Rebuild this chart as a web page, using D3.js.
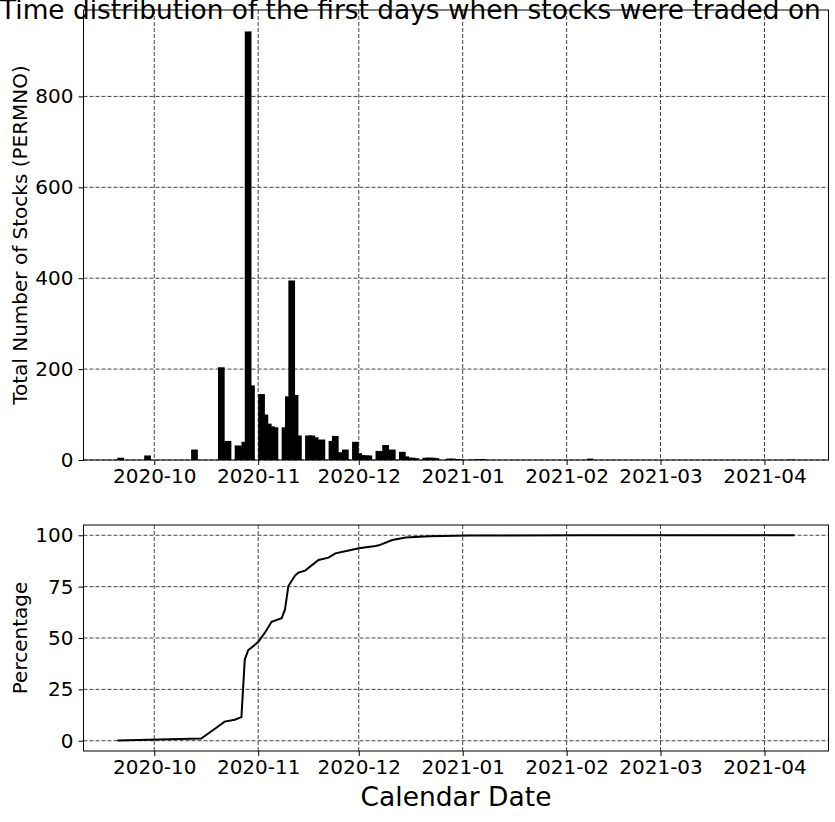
<!DOCTYPE html>
<html>
<head>
<meta charset="utf-8">
<script src="https://cdn.jsdelivr.net/npm/d3@7"></script>
<style>
  body { margin: 0; background: #fff; }
  svg { display: block; font-family: "DejaVu Sans", sans-serif; }
</style>
</head>
<body>
<div id="chart"></div>
<script>
// first-trading-day counts (date of the bar's left edge, number of PERMNOs)
const barDates = [
  "2020-09-20", "2020-09-28", "2020-10-12", "2020-10-20", "2020-10-21", "2020-10-22",
  "2020-10-25", "2020-10-26", "2020-10-27", "2020-10-28", "2020-10-29",
  "2020-11-01", "2020-11-02", "2020-11-03", "2020-11-04", "2020-11-05",
  "2020-11-08", "2020-11-09", "2020-11-10", "2020-11-11", "2020-11-12",
  "2020-11-15", "2020-11-16", "2020-11-17", "2020-11-18", "2020-11-19",
  "2020-11-22", "2020-11-23", "2020-11-24", "2020-11-26",
  "2020-11-29", "2020-11-30", "2020-12-01", "2020-12-02", "2020-12-03",
  "2020-12-06", "2020-12-07", "2020-12-08", "2020-12-09", "2020-12-10",
  "2020-12-13", "2020-12-14", "2020-12-15", "2020-12-16", "2020-12-17",
  "2020-12-20", "2020-12-21", "2020-12-22", "2020-12-23",
  "2020-12-27", "2020-12-28", "2020-12-29", "2020-12-30",
  "2021-01-03", "2021-01-05", "2021-01-06", "2021-02-07", "2021-04-08"
];
const barCounts = [
  5, 10, 23, 204, 38, 42,
  32, 28, 40, 943, 164,
  145, 100, 80, 74, 72,
  72, 140, 395, 143, 54,
  54, 54, 50, 44, 45,
  42, 53, 17, 23,
  40, 15, 11, 10, 10,
  20, 18, 33, 20, 23,
  18, 8, 5, 5, 4,
  5, 5, 5, 4,
  3, 3, 2, 2,
  1, 2, 2, 3, 1
];

// cumulative share of stocks
const lineDates = [
  "2020-09-20", "2020-10-15", "2020-10-19", "2020-10-22", "2020-10-25", "2020-10-27",
  "2020-10-28", "2020-10-29", "2020-11-01", "2020-11-03", "2020-11-05", "2020-11-08",
  "2020-11-09", "2020-11-10", "2020-11-12", "2020-11-13", "2020-11-15", "2020-11-19",
  "2020-11-22", "2020-11-24", "2020-11-28", "2020-12-01", "2020-12-06", "2020-12-07",
  "2020-12-11", "2020-12-15", "2020-12-22", "2021-01-03", "2021-02-07", "2021-04-10"
];
const linePct = [
  0.15, 1.1, 5.7, 9.3, 10.2, 11.5,
  39.5, 44.0, 48.0, 52.6, 57.9, 59.6,
  63.9, 75.3, 80.4, 81.8, 82.8, 88.0,
  89.1, 91.2, 92.6, 93.7, 94.8, 95.1,
  97.7, 98.9, 99.5, 99.85, 99.97, 100
];

const yTicksTop = [0, 200, 400, 600, 800];
const yTicksBottom = [0, 25, 50, 75, 100];
const xTickDates = ["2020-10-01", "2020-11-01", "2020-12-01", "2021-01-01", "2021-02-01", "2021-03-01", "2021-04-01"];

const parse = d3.utcParse("%Y-%m-%d");
const DAY = 24 * 3600 * 1000;

const W = 835, H = 822;
const left = 83.5, right = 828.5;
const top1 = 10, bottom1 = 460;
const top2 = 525, bottom2 = 751;

const svg = d3.select("#chart").append("svg")
    .attr("width", W)
    .attr("height", H);

// x domain: bar extents padded by 5% on each side (shared by both panels)
const bars = barDates.map((d, i) => ({ start: parse(d), count: barCounts[i] }));
const xMin = d3.min(bars, d => d.start);
const xMax = new Date(d3.max(bars, d => d.start).getTime() + 2 * DAY);
const pad = (xMax - xMin) * 0.05;

const x = d3.scaleUtc()
    .domain([new Date(+xMin - pad), new Date(+xMax + pad)])
    .range([left, right]);

const y1 = d3.scaleLinear()
    .domain([0, d3.max(barCounts) * 1.05])
    .range([bottom1, top1]);

const y2 = d3.scaleLinear()
    .domain([-5, 105])
    .range([bottom2, top2]);

const tickVals = xTickDates.map(parse);
const fmt = d3.utcFormat("%Y-%m");

function drawGrid(g, y, yTicks, yTop, yBot) {
    g.selectAll(".vgrid")
        .data(tickVals)
        .enter().append("line")
        .attr("x1", d => x(d)).attr("x2", d => x(d))
        .attr("y1", yTop).attr("y2", yBot)
        .attr("stroke", "#444").attr("stroke-width", 1)
        .attr("stroke-dasharray", "4,2");
    g.selectAll(".hgrid")
        .data(yTicks)
        .enter().append("line")
        .attr("x1", left).attr("x2", right)
        .attr("y1", d => y(d)).attr("y2", d => y(d))
        .attr("stroke", "#444").attr("stroke-width", 1)
        .attr("stroke-dasharray", "4,2");
}

function drawAxes(y, yTicks, yTop, yBot) {
    const xa = svg.append("g")
        .attr("transform", `translate(0,${yBot})`)
        .call(d3.axisBottom(x).tickValues(tickVals).tickFormat(fmt).tickSize(5).tickPadding(4));
    const ya = svg.append("g")
        .attr("transform", `translate(${left},0)`)
        .call(d3.axisLeft(y).tickValues(yTicks).tickSize(5).tickPadding(5));
    [xa, ya].forEach(a => {
        a.select(".domain").remove();
        a.selectAll("line").attr("stroke", "#000").attr("stroke-width", 1);
        a.selectAll("text")
            .style("font-size", "20px")
            .style("font-family", "DejaVu Sans")
            .attr("fill", "#000");
    });
    // frame
    svg.append("rect")
        .attr("x", left).attr("y", yTop)
        .attr("width", right - left).attr("height", yBot - yTop)
        .attr("fill", "none").attr("stroke", "#000").attr("stroke-width", 1);
}

// ---- top panel: bars
const g1 = svg.append("g");
drawGrid(g1, y1, yTicksTop, top1, bottom1);

g1.selectAll("rect.bar")
    .data(bars)
    .enter().append("rect")
    .attr("class", "bar")
    .attr("x", d => x(d.start))
    .attr("width", d => x(new Date(+d.start + 2 * DAY)) - x(d.start))
    .attr("y", d => y1(d.count))
    .attr("height", d => y1(0) - y1(d.count))
    .attr("fill", "#000");

drawAxes(y1, yTicksTop, top1, bottom1);

// ---- bottom panel: cumulative line
const g2 = svg.append("g");
drawGrid(g2, y2, yTicksBottom, top2, bottom2);

const lineData = lineDates.map((d, i) => ({ date: parse(d), pct: linePct[i] }));
g2.append("path")
    .datum(lineData)
    .attr("fill", "none")
    .attr("stroke", "#000")
    .attr("stroke-width", 2)
    .attr("d", d3.line().x(d => x(d.date)).y(d => y2(d.pct)));

drawAxes(y2, yTicksBottom, top2, bottom2);

// ---- labels (the title spans the whole figure width, as in the original)
svg.append("text")
    .attr("x", 0)
    .attr("y", 19)
    .style("font-size", "26.4px")
    .text("Time distribution of the first days when stocks were traded on");

svg.append("text")
    .attr("transform", `translate(27,${(top1 + bottom1) / 2}) rotate(-90)`)
    .attr("text-anchor", "middle")
    .style("font-size", "20px")
    .text("Total Number of Stocks (PERMNO)");

svg.append("text")
    .attr("transform", `translate(27,${(top2 + bottom2) / 2}) rotate(-90)`)
    .attr("text-anchor", "middle")
    .style("font-size", "20px")
    .text("Percentage");

svg.append("text")
    .attr("x", (left + right) / 2)
    .attr("y", 806)
    .attr("text-anchor", "middle")
    .style("font-size", "26.5px")
    .text("Calendar Date");
</script>
</body>
</html>
